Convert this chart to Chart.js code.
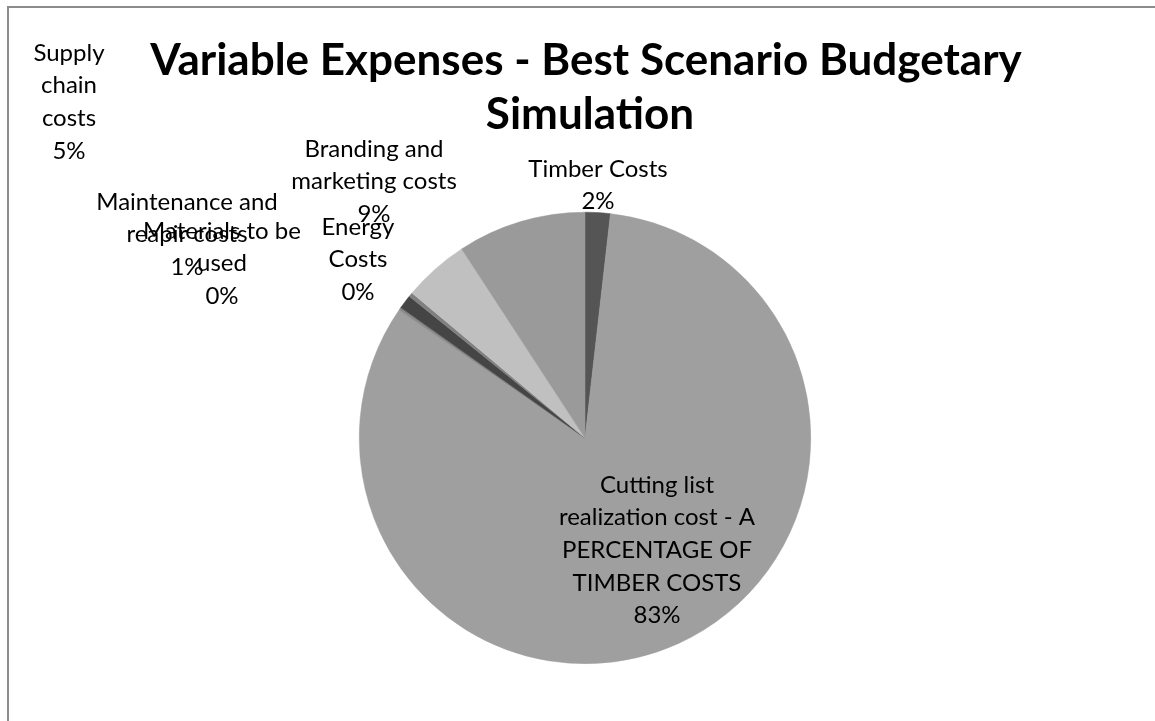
<!DOCTYPE html>
<html>
<head>
<meta charset="utf-8">
<script src="https://cdn.jsdelivr.net/npm/chart.js@4/dist/chart.umd.min.js"></script>
<style>
  html, body { margin: 0; padding: 0; background: #fff; }
  #wrap { width: 1155px; height: 721px; position: relative; }
</style>
</head>
<body>
<div id="wrap"><canvas id="pie" width="1155" height="721"></canvas></div>
<script>
// expense categories, in drawing order (clockwise from 12 o'clock)
const categories = [
  'Timber Costs',
  'Cutting list realization cost - A PERCENTAGE OF TIMBER COSTS',
  'Materials to be used',
  'Maintenance and reapir costs',
  'Energy Costs',
  'Supply chain costs',
  'Branding and marketing costs'
];
// share of variable expenses, %
const shares = [1.8, 82.8, 0.2, 1.0, 0.3, 4.7, 9.2];
const sliceColors = ['#555555', '#9f9f9f', '#8a8a8a', '#454545', '#808080', '#c0c0c0', '#9a9a9a'];

const titleLines = ['Variable Expenses - Best Scenario Budgetary', 'Simulation'];

// label text lines (the percentage line is added at draw time)
const labelLines = [
  ['Timber Costs'],
  ['Cutting list', 'realization cost - A', 'PERCENTAGE OF', 'TIMBER COSTS'],
  ['Materials to be', 'used'],
  ['Maintenance and', 'reapir costs'],
  ['Energy', 'Costs'],
  ['Supply', 'chain', 'costs'],
  ['Branding and', 'marketing costs']
];
// where each label block sits: x centre, y of the first line
const labelAnchor = [
  [598, 169], [657, 485], [222, 231], [187, 202], [358, 227], [69, 53], [374, 149]
];

const FONT = 'Lato, "Open Sans", sans-serif';

const pieText = {
  id: 'pieText',
  beforeDraw(chart) {
    const c = chart.ctx;
    c.save();
    c.strokeStyle = '#8c8c8c';
    c.lineWidth = 2;
    c.beginPath();
    c.moveTo(8, 721);
    c.lineTo(8, 7);
    c.lineTo(1155, 7);
    c.stroke();
    c.restore();
  },
  afterDraw(chart) {
    const c = chart.ctx;
    const total = shares.reduce((a, b) => a + b, 0);
    c.save();
    c.fillStyle = '#000';
    c.textAlign = 'center';
    c.textBaseline = 'middle';

    c.font = 'bold 44px ' + FONT;
    c.fillText(titleLines[0], 586, 61);
    c.fillText(titleLines[1], 590, 115);

    c.font = '24px ' + FONT;
    labelLines.forEach((lines, i) => {
      const [x, y] = labelAnchor[i];
      const pct = Math.round(shares[i] / total * 100) + '%';
      lines.concat([pct]).forEach((t, k) => c.fillText(t, x, y + k * 32.6));
    });
    c.restore();
  }
};

new Chart(document.getElementById('pie'), {
  type: 'pie',
  data: {
    labels: categories,
    datasets: [{
      data: shares,
      backgroundColor: sliceColors,
      borderColor: sliceColors,
      borderWidth: 0.5
    }]
  },
  options: {
    responsive: false,
    animation: false,
    layout: { padding: { top: 212, bottom: 57, left: 359, right: 344 } },
    plugins: {
      legend: { display: false },
      tooltip: { enabled: false }
    }
  },
  plugins: [pieText]
});
</script>
</body>
</html>
